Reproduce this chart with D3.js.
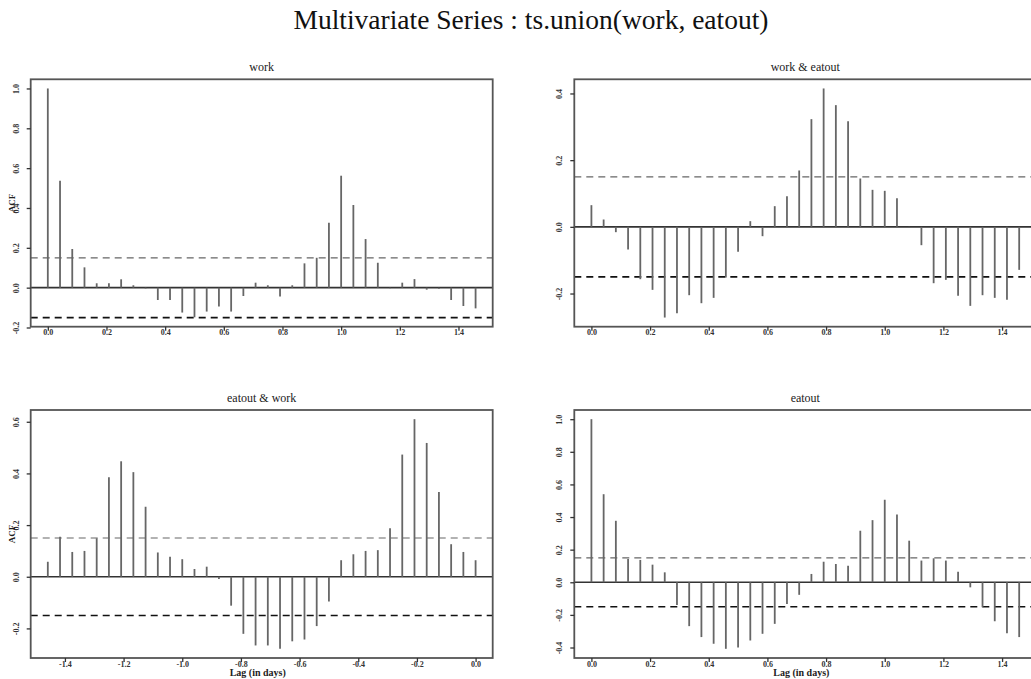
<!DOCTYPE html>
<html>
<head>
<meta charset="utf-8">
<script src="https://cdn.jsdelivr.net/npm/d3@7"></script>
<style>
  html, body { margin: 0; padding: 0; background: #fff; overflow: hidden; }
  svg { display: block; }
</style>
</head>
<body>
<svg id="chart" width="1031" height="679"></svg>
<script>
// ---------------- DATA ----------------
const mainTitle = "Multivariate Series : ts.union(work, eatout)";
const panelTitles = ["work", "work & eatout", "eatout & work", "eatout"];
const yLabel = "ACF";
const xLabel = "Lag (in days)";
const lagsPerUnit = 24;
const lagsPos = d3.range(0, 36);          // 0..35
const lagsNeg = d3.range(-35, 1);         // -35..0
const ciLimit = 0.15;

const acfWork = [1.0, 0.537, 0.194, 0.102, 0.022, 0.022, 0.042, 0.012, -0.004, -0.062,
  -0.062, -0.125, -0.149, -0.12, -0.095, -0.12, -0.042, 0.025, 0.012, -0.045,
  0.012, 0.122, 0.150, 0.326, 0.562, 0.415, 0.244, 0.125, -0.003, 0.025,
  0.043, -0.01, -0.005, -0.062, -0.092, -0.104];

const ccfWorkEatout = [0.065, 0.022, -0.016, -0.068, -0.157, -0.189, -0.272, -0.259, -0.205, -0.229,
  -0.213, -0.152, -0.075, 0.017, -0.028, 0.062, 0.092, 0.169, 0.323, 0.415,
  0.365, 0.317, 0.145, 0.111, 0.108, 0.086, -0.003, -0.055, -0.169, -0.159,
  -0.207, -0.237, -0.205, -0.213, -0.219, -0.129];

// lags -35 .. 0
const ccfEatoutWork = [0.058, 0.155, 0.096, 0.100, 0.149, 0.385, 0.447, 0.405, 0.271, 0.094,
  0.077, 0.068, 0.030, 0.039, -0.009, -0.112, -0.221, -0.266, -0.266, -0.279,
  -0.250, -0.243, -0.191, -0.096, 0.064, 0.087, 0.100, 0.103, 0.188, 0.473,
  0.610, 0.518, 0.328, 0.126, 0.096, 0.064];

const acfEatout = [1.0, 0.540, 0.377, 0.143, 0.137, 0.108, 0.061, -0.139, -0.269, -0.336,
  -0.377, -0.408, -0.400, -0.357, -0.316, -0.255, -0.133, -0.077, 0.051, 0.126,
  0.112, 0.102, 0.316, 0.381, 0.506, 0.416, 0.255, 0.133, 0.147, 0.133,
  0.065, -0.031, -0.153, -0.239, -0.312, -0.336];

const xTicksPos = [0.0, 0.2, 0.4, 0.6, 0.8, 1.0, 1.2, 1.4];
const xTicksNeg = [-1.4, -1.2, -1.0, -0.8, -0.6, -0.4, -0.2, 0.0];
const yTicksWork = [-0.2, 0.0, 0.2, 0.4, 0.6, 0.8, 1.0];
const yTicksWorkEatout = [-0.2, 0.0, 0.2, 0.4];
const yTicksEatoutWork = [-0.2, 0.0, 0.2, 0.4, 0.6];
const yTicksEatout = [-0.4, -0.2, 0.0, 0.2, 0.4, 0.6, 0.8, 1.0];

// ---------------- LAYOUT ----------------
const svg = d3.select("#chart");
const serif = "'Liberation Serif', 'DejaVu Serif', serif";

const boxes = [
  {x0: 30.7, x1: 492.7, y0: 79.3, y1: 326.7},
  {x0: 574.3, x1: 1036.3, y0: 79.3, y1: 326.7},
  {x0: 30.7, x1: 492.7, y0: 410.0, y1: 658.0},
  {x0: 574.3, x1: 1036.3, y0: 410.0, y1: 658.0}
];

const panels = [
  {title: panelTitles[0], lags: lagsPos, vals: acfWork, xt: xTicksPos, yt: yTicksWork, ylab: true, xlab: false},
  {title: panelTitles[1], lags: lagsPos, vals: ccfWorkEatout, xt: xTicksPos, yt: yTicksWorkEatout, ylab: false, xlab: false},
  {title: panelTitles[2], lags: lagsNeg, vals: ccfEatoutWork, xt: xTicksNeg, yt: yTicksEatoutWork, ylab: true, xlab: true},
  {title: panelTitles[3], lags: lagsPos, vals: acfEatout, xt: xTicksPos, yt: yTicksEatout, ylab: false, xlab: true}
];

svg.append("text")
  .attr("x", 531).attr("y", 29)
  .attr("text-anchor", "middle")
  .attr("font-family", serif)
  .attr("font-size", 27.5)
  .attr("fill", "#111")
  .text(mainTitle);

const fmt = v => (Math.abs(v) < 1e-9 ? 0 : v).toFixed(1);

panels.forEach((p, i) => {
  const b = boxes[i];
  const xs = p.lags.map(l => l / lagsPerUnit);
  const xmin = d3.min(xs), xmax = d3.max(xs);
  const xpad = (xmax - xmin) * 0.04;
  const x = d3.scaleLinear().domain([xmin - xpad, xmax + xpad]).range([b.x0, b.x1]);

  const ymin = Math.min(-ciLimit, d3.min(p.vals));
  const ymax = Math.max(ciLimit, d3.max(p.vals));
  const ypad = (ymax - ymin) * 0.04;
  const y = d3.scaleLinear().domain([ymin - ypad, ymax + ypad]).range([b.y1, b.y0]);

  const g = svg.append("g");

  // CI dashed lines
  [ciLimit, -ciLimit].forEach((c, k) => {
    g.append("line")
      .attr("x1", b.x0).attr("x2", b.x1)
      .attr("y1", y(c)).attr("y2", y(c))
      .attr("stroke", k === 0 ? "#666" : "#111")
      .attr("stroke-width", k === 0 ? 1.2 : 1.7)
      .attr("stroke-dasharray", "7,5");
  });

  // zero line
  g.append("line")
    .attr("x1", b.x0).attr("x2", b.x1)
    .attr("y1", y(0)).attr("y2", y(0))
    .attr("stroke", "#333").attr("stroke-width", 1.6);

  // bars
  g.selectAll("line.bar").data(p.vals).enter().append("line")
    .attr("class", "bar")
    .attr("x1", (d, j) => x(p.lags[j] / lagsPerUnit))
    .attr("x2", (d, j) => x(p.lags[j] / lagsPerUnit))
    .attr("y1", y(0))
    .attr("y2", d => y(d))
    .attr("stroke", "#666")
    .attr("stroke-width", 1.8);

  // box
  g.append("rect")
    .attr("x", b.x0).attr("y", b.y0)
    .attr("width", b.x1 - b.x0).attr("height", b.y1 - b.y0)
    .attr("fill", "none").attr("stroke", "#555").attr("stroke-width", 1.8);

  // x axis ticks
  const xa = d3.axisBottom(x).tickValues(p.xt).tickSize(4).tickFormat(fmt);
  const gx = g.append("g").attr("transform", `translate(0,${b.y1})`).call(xa);
  gx.select(".domain").remove();
  gx.selectAll("line").attr("stroke", "#333").attr("stroke-width", 1.3);
  gx.selectAll("text").attr("font-family", serif).attr("font-size", 8)
    .attr("font-weight", "bold")
    .attr("fill", "#333").attr("dy", "0.2em").attr("y", 7);

  // y axis ticks
  const ya = d3.axisLeft(y).tickValues(p.yt).tickSize(4).tickFormat(fmt);
  const gy = g.append("g").attr("transform", `translate(${b.x0},0)`).call(ya);
  gy.select(".domain").remove();
  gy.selectAll("line").attr("stroke", "#333").attr("stroke-width", 1.3);
  gy.selectAll("text")
    .attr("font-family", serif).attr("font-size", 8).attr("font-weight", "bold").attr("fill", "#333")
    .attr("x", null).attr("dy", null)
    .attr("text-anchor", "middle")
    .attr("transform", "translate(-12,0) rotate(-90)");

  // panel title
  g.append("text")
    .attr("x", (b.x0 + b.x1) / 2).attr("y", b.y0 - 8)
    .attr("text-anchor", "middle")
    .attr("font-family", serif).attr("font-size", 12).attr("fill", "#222")
    .text(p.title);

  if (p.ylab) {
    g.append("text")
      .attr("transform", `translate(15,${(b.y0 + b.y1) / 2}) rotate(-90)`)
      .attr("text-anchor", "middle")
      .attr("font-family", serif).attr("font-size", 9).attr("font-weight", "bold").attr("fill", "#222")
      .text(yLabel);
  }
  if (p.xlab) {
    g.append("text")
      .attr("x", (b.x0 + b.x1) / 2 - 4).attr("y", 676)
      .attr("text-anchor", "middle")
      .attr("font-family", serif).attr("font-size", 10).attr("font-weight", "bold").attr("fill", "#222")
      .text(xLabel);
  }
});
</script>
</body>
</html>
